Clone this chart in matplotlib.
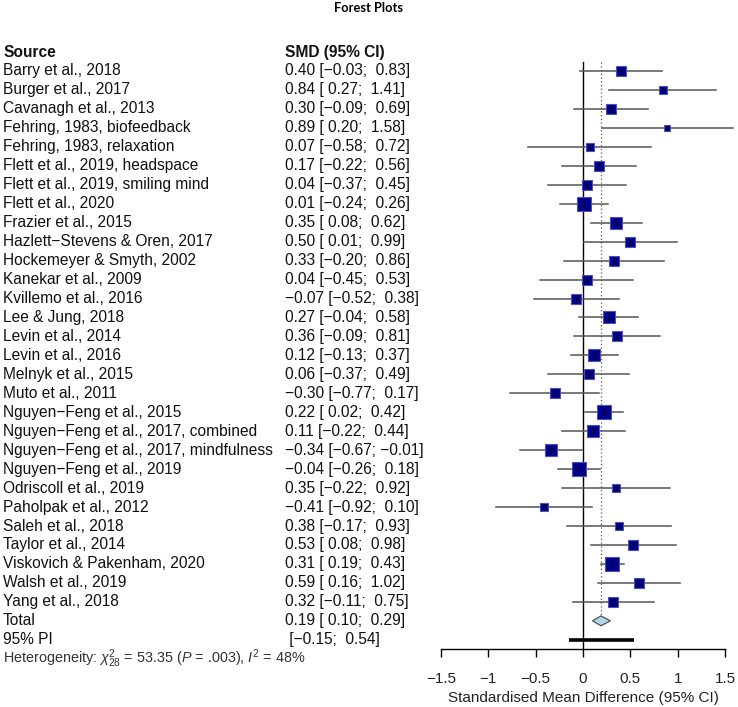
import matplotlib
matplotlib.use("Agg")
import matplotlib.pyplot as plt
import matplotlib.transforms as mtransforms
from matplotlib.patches import Polygon
import numpy as np

plt.rcParams['font.family'] = ['Liberation Sans', 'DejaVu Sans']
plt.rcParams['mathtext.fontset'] = 'custom'
plt.rcParams['mathtext.rm'] = 'Liberation Sans'
plt.rcParams['mathtext.it'] = 'Liberation Sans:italic'
plt.rcParams['mathtext.bf'] = 'Liberation Sans:bold'

# ---------------- data ----------------
studies = [
    "Barry et al., 2018", "Burger et al., 2017", "Cavanagh et al., 2013",
    "Fehring, 1983, biofeedback", "Fehring, 1983, relaxation",
    "Flett et al., 2019, headspace", "Flett et al., 2019, smiling mind",
    "Flett et al., 2020", "Frazier et al., 2015", "Hazlett\u2212Stevens & Oren, 2017",
    "Hockemeyer & Smyth, 2002", "Kanekar et al., 2009", "Kvillemo et al., 2016",
    "Lee & Jung, 2018", "Levin et al., 2014", "Levin et al., 2016",
    "Melnyk et al., 2015", "Muto et al., 2011", "Nguyen\u2212Feng et al., 2015",
    "Nguyen\u2212Feng et al., 2017, combined", "Nguyen\u2212Feng et al., 2017, mindfulness",
    "Nguyen\u2212Feng et al., 2019", "Odriscoll et al., 2019", "Paholpak et al., 2012",
    "Saleh et al., 2018", "Taylor et al., 2014", "Viskovich & Pakenham, 2020",
    "Walsh et al., 2019", "Yang et al., 2018",
]
smd = [0.40, 0.84, 0.30, 0.89, 0.07, 0.17, 0.04, 0.01, 0.35, 0.50,
       0.33, 0.04, -0.07, 0.27, 0.36, 0.12, 0.06, -0.30, 0.22, 0.11,
       -0.34, -0.04, 0.35, -0.41, 0.38, 0.53, 0.31, 0.59, 0.32]
ci_low = [-0.03, 0.27, -0.09, 0.20, -0.58, -0.22, -0.37, -0.24, 0.08, 0.01,
          -0.20, -0.45, -0.52, -0.04, -0.09, -0.13, -0.37, -0.77, 0.02, -0.22,
          -0.67, -0.26, -0.22, -0.92, -0.17, 0.08, 0.19, 0.16, -0.11]
ci_high = [0.83, 1.41, 0.69, 1.58, 0.72, 0.56, 0.45, 0.26, 0.62, 0.99,
           0.86, 0.53, 0.38, 0.58, 0.81, 0.37, 0.49, 0.17, 0.42, 0.44,
           -0.01, 0.18, 0.92, 0.10, 0.93, 0.98, 0.43, 1.02, 0.75]
weights = [3.0, 2.1, 3.0, 1.2, 1.6, 3.5, 3.5, 5.4, 4.9, 2.6,
           2.6, 2.6, 2.6, 4.2, 3.2, 4.9, 3.0, 3.0, 6.2, 3.9,
           4.4, 6.2, 2.3, 2.3, 2.1, 2.9, 6.8, 3.2, 2.9]
total = (0.19, 0.10, 0.29)
pred_int = (-0.15, 0.54)
xticks = [-1.5, -1, -0.5, 0, 0.5, 1, 1.5]
xtick_labels = ["\u22121.5", "\u22121", "\u22120.5", "0", "0.5", "1", "1.5"]

# ---------------- layout ----------------
W, H = 738, 707
fig = plt.figure(figsize=(W / 100, H / 100), dpi=100)
row_px = 18.96
y0_px = 71.0
n = len(studies)
top_row, bot_row = -1.5, 30.5
ax_left, ax_right = 441, 725
ax_top = y0_px + top_row * row_px
ax_bot = y0_px + bot_row * row_px
ax = fig.add_axes([ax_left / W, 1 - ax_bot / H, (ax_right - ax_left) / W, (ax_bot - ax_top) / H])
ax.set_xlim(-1.5, 1.5)
ax.set_ylim(bot_row, top_row)
for s in ['top', 'right', 'left']:
    ax.spines[s].set_visible(False)
ax.spines['bottom'].set_linewidth(1.0)
ax.set_yticks([])
ax.set_xticks(xticks)
ax.set_xticklabels(xtick_labels, fontsize=11, color='#222222')
ax.tick_params(axis='x', direction='out', length=6, width=1.0, pad=10)
ax.set_xlabel("Standardised Mean Difference (95% CI)", fontsize=11, color='#222222', labelpad=4)
ax.patch.set_alpha(0)

rows = np.arange(n)
# reference lines
ax.plot([0, 0], [-0.5, bot_row], color='black', lw=1.0, clip_on=False, zorder=1)
ax.plot([total[0], total[0]], [-0.45, n - 0.25], color='#555555', lw=0.9,
        ls=(0, (1, 2)), clip_on=False, zorder=1)

# CIs
for i in range(n):
    ax.plot([ci_low[i], ci_high[i]], [rows[i], rows[i]], color='#555555', lw=1.1,
            clip_on=False, zorder=2)
# boxes
for i in range(n):
    side_px = np.sqrt(weights[i] * 32.96)
    ax.plot(smd[i], rows[i], marker='s', ms=side_px * 0.72, mfc='#00008B',
            mec='#5050B0', mew=0.8, ls='none', clip_on=False, zorder=3)
    ax.plot(smd[i], rows[i], marker='|', ms=4.5, color='black', mew=0.8,
            ls='none', clip_on=False, zorder=4)

# diamond for total
dh = 0.26
diamond = Polygon([[total[1], n], [total[0], n - dh], [total[2], n], [total[0], n + dh]],
                  closed=True, fc='#ADD8E6', ec='#555555', lw=0.9, clip_on=False, zorder=3)
ax.add_patch(diamond)
# prediction interval
ax.plot([pred_int[0], pred_int[1]], [n + 1, n + 1], color='black', lw=2.6,
        solid_capstyle='butt', clip_on=False, zorder=3)

# ---------------- text columns ----------------
trans = mtransforms.blended_transform_factory(fig.transFigure, ax.transData)
x_src = 3 / W
x_smd = 285 / W
fs = 11.2
txtc = '#111111'


def fmt(v):
    return ("\u2212%.2f" % abs(v)) if v < 0 else ("%.2f" % v)


def fmt_ci(v):
    return fmt(v) if v < 0 else " " + fmt(v)


ax.text(x_src, -1, "Source", transform=trans, fontsize=fs, fontweight='bold',
        va='center', ha='left', color=txtc)
ax.text(x_smd, -1, "SMD (95% CI)", transform=trans, fontsize=fs, fontweight='bold',
        va='center', ha='left', color=txtc)
for i in range(n):
    ax.text(x_src, rows[i], studies[i], transform=trans, fontsize=fs,
            va='center', ha='left', color=txtc)
    s = "%s [%s; %s]" % (fmt(smd[i]), fmt_ci(ci_low[i]), fmt_ci(ci_high[i]))
    ax.text(x_smd, rows[i], s, transform=trans, fontsize=fs,
            va='center', ha='left', color=txtc)
ax.text(x_src, n, "Total", transform=trans, fontsize=fs, va='center', ha='left', color=txtc)
ax.text(x_smd, n, "%s [%s; %s]" % (fmt(total[0]), fmt_ci(total[1]), fmt_ci(total[2])),
        transform=trans, fontsize=fs, va='center', ha='left', color=txtc)
ax.text(x_src, n + 1, "95% PI", transform=trans, fontsize=fs, va='center', ha='left', color=txtc)
ax.text(x_smd, n + 1, " [%s; %s]" % (fmt_ci(pred_int[0]), fmt_ci(pred_int[1])),
        transform=trans, fontsize=fs, va='center', ha='left', color=txtc)
ax.text(x_src, n + 2, r"Heterogeneity: $\chi^2_{28}$ = 53.35 ($P$ = .003), $I^2$ = 48%",
        transform=trans, fontsize=10.4, va='center', ha='left', color='#333333')

fig.text(369 / W, 1 - 8 / H, "Forest Plots", fontsize=9.3, fontweight='bold',
         family=['Lato', 'DejaVu Sans'], ha='center', va='center', color='black')

fig.savefig("out.png", dpi=100)
